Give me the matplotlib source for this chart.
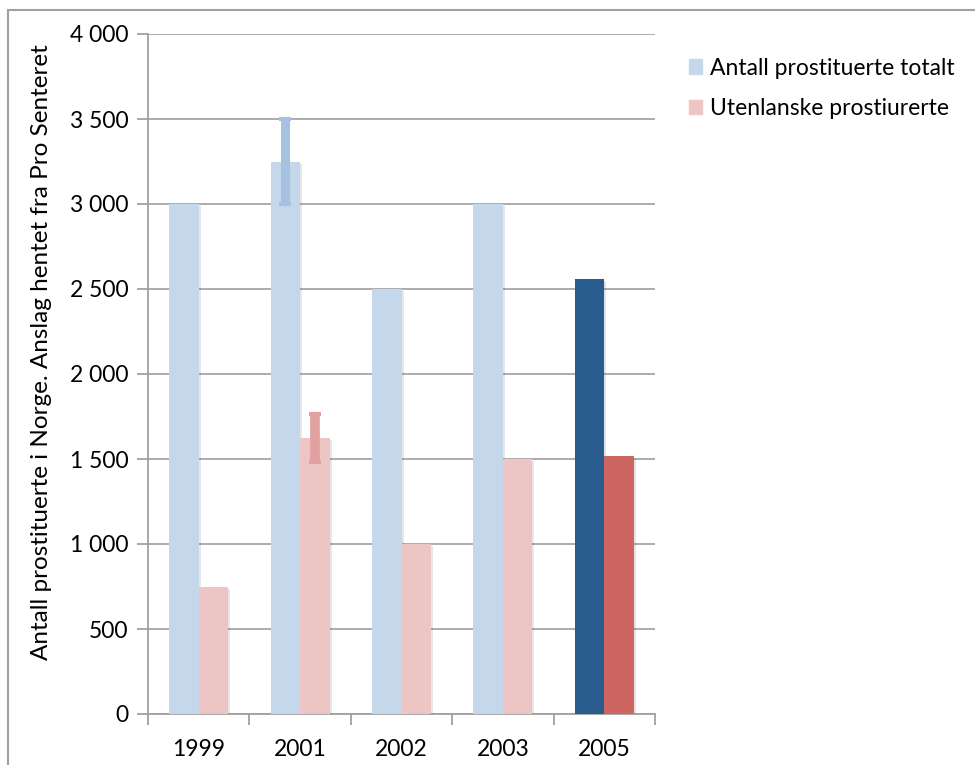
import numpy as np
import matplotlib.pyplot as plt
from matplotlib.patches import Rectangle
import matplotlib.patheffects as pe
from matplotlib.ticker import FuncFormatter

plt.rcParams['font.family'] = ['Lato', 'DejaVu Sans']

years = ['1999', '2001', '2002', '2003', '2005']
total = [3000, 3250, 2500, 3000, 2560]
foreign = [750, 1625, 1000, 1500, 1520]
total_err = [0, 250, 0, 0, 0]
foreign_err = [0, 140, 0, 0, 0]
labels = ['Antall prostituerte totalt', 'Utenlanske prostiurerte']

blue_light, red_light = '#C5D7EB', '#EDC5C4'
blue_dark, red_dark = '#285C8E', '#CD6660'
blue_err, red_err = '#A7C2E1', '#E1A1A0'

fig = plt.figure(figsize=(9.75, 7.65), dpi=100)
fig.patches.append(Rectangle((8/975, -0.1), 2, 1.1 - 10/765, transform=fig.transFigure,
                             fill=False, edgecolor='#A0A0A0', lw=1.5))
ax = fig.add_axes([148/975, 51/765, 507/975, 680/765])

x = np.arange(len(years))
w = 0.29
shadow = [pe.SimplePatchShadow(offset=(1.5, -1.5), alpha=0.12), pe.Normal()]
tcol = [blue_light] * 4 + [blue_dark]
fcol = [red_light] * 4 + [red_dark]
ax.bar(x - w/2, total, w, color=tcol, zorder=3, path_effects=shadow)
ax.bar(x + w/2, foreign, w, color=fcol, zorder=3, path_effects=shadow)

i = 1
ax.errorbar(x[i] - w/2, total[i], yerr=total_err[i], fmt='none', ecolor=blue_err,
            elinewidth=6.5, capsize=4, capthick=3, zorder=4)
ax.errorbar(x[i] + w/2, foreign[i], yerr=foreign_err[i], fmt='none', ecolor=red_err,
            elinewidth=7, capsize=4, capthick=3, zorder=4)

ax.set_xlim(-0.5, len(years) - 0.5)
ax.set_ylim(0, 4000)
ax.set_yticks(np.arange(0, 4001, 500))
ax.yaxis.set_major_formatter(FuncFormatter(lambda v, p: f'{int(v):,}'.replace(',', ' ')))
ax.set_xticks(x)
ax.set_xticklabels(years)
ax.set_xticks(np.arange(-0.5, len(years)), minor=True)
ax.tick_params(axis='x', which='major', length=0, pad=18, labelsize=16.5)
ax.tick_params(axis='x', which='minor', length=8, color='#A0A0A0', width=1.3)
ax.tick_params(axis='y', length=8, color='#A0A0A0', width=1.3, pad=6, labelsize=16.5)
ax.grid(axis='y', color='#A6A6A6', lw=1.3, zorder=0)
for s in ['top', 'right']:
    ax.spines[s].set_visible(False)
for s in ['left', 'bottom']:
    ax.spines[s].set_color('#A0A0A0')
    ax.spines[s].set_linewidth(1.3)
ax.set_ylabel('Antall prostituerte i Norge. Anslag hentet fra Pro Senteret', fontsize=17.5)
ax.yaxis.set_label_coords(-96/507, 0.532)

handles = [Rectangle((0, 0), 1, 1, color=blue_light), Rectangle((0, 0), 1, 1, color=red_light)]
fig.legend(handles, labels, loc='upper left', bbox_to_anchor=(668/975, 1 - 37/765),
           frameon=False, fontsize=16.5, handlelength=0.6, handleheight=0.6,
           handletextpad=0.35, labelspacing=0.85)

fig.savefig('out.png', dpi=100)
